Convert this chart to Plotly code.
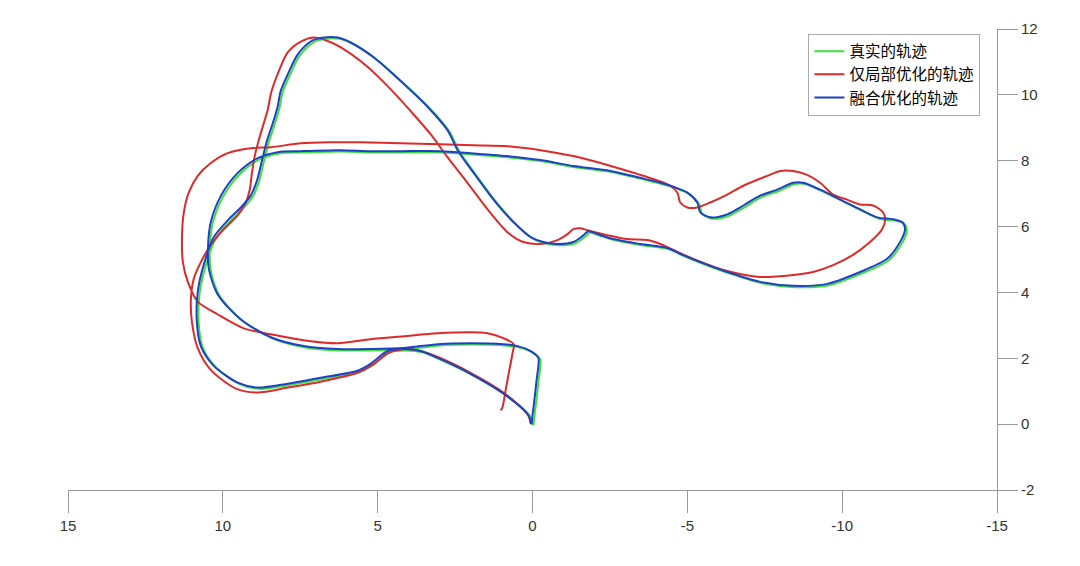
import plotly.graph_objects as go

# trajectory coordinates (x axis is drawn reversed)
true_x = [-0.01, 0.07, 0.88, 1.94, 3.00, 3.55, 4.10, 4.62, 5.17, 5.59,
          6.78, 7.84, 8.81, 9.46, 10.23, 10.65, 10.78, 10.75, 10.55, 10.23,
          9.78, 9.36, 9.04, 8.84, 8.68, 8.52, 8.33, 8.17, 8.07, 7.84,
          7.52, 7.10, 6.68, 6.23, 5.81, 5.07, 4.20, 3.33, 2.68, 2.36,
          1.84, 1.20, 0.55, 0.00, -0.41, -0.87, -1.38, -1.71, -1.87, -2.16,
          -2.67, -3.54, -4.41, -4.83, -5.48, -6.35, -7.41, -8.48, -9.58, -10.64,
          -11.51, -11.93, -12.09, -12.00, -11.71, -11.19, -10.64, -10.00, -9.35, -8.80,
          -8.48, -7.96, -7.41, -6.87, -6.35, -5.80, -5.48, -5.38, -5.06, -4.61,
          -4.19, -3.54, -2.58, -1.38, -0.32, 0.75, 1.94, 2.91, 4.20, 5.17,
          6.17, 7.42, 8.17, 8.81, 9.46, 10.00, 10.33, 10.42, 10.39, 10.10,
          9.36, 8.39, 7.33, 6.23, 5.17, 4.10, 3.00, 1.94, 0.88, 0.42,
          0.00, -0.25, -0.25, -0.19, -0.12, -0.06, -0.03]
true_y = [-0.04, 0.23, 0.89, 1.49, 1.97, 2.18, 2.24, 2.18, 1.79, 1.58,
          1.37, 1.19, 1.07, 1.22, 1.73, 2.33, 3.08, 3.98, 4.82, 5.64,
          6.15, 6.54, 6.90, 7.35, 7.95, 8.55, 9.09, 9.60, 10.08, 10.59,
          11.19, 11.58, 11.70, 11.70, 11.55, 11.10, 10.38, 9.60, 8.88, 8.28,
          7.59, 6.78, 6.09, 5.64, 5.49, 5.43, 5.49, 5.70, 5.82, 5.73,
          5.58, 5.43, 5.31, 5.13, 4.88, 4.58, 4.28, 4.16, 4.22, 4.58,
          4.98, 5.49, 5.88, 6.09, 6.18, 6.24, 6.48, 6.78, 7.08, 7.29,
          7.29, 7.08, 6.90, 6.60, 6.33, 6.24, 6.39, 6.69, 6.99, 7.17,
          7.29, 7.44, 7.65, 7.80, 7.98, 8.10, 8.19, 8.25, 8.25, 8.25,
          8.28, 8.25, 8.22, 8.04, 7.59, 6.90, 6.09, 5.28, 4.67, 3.89,
          3.14, 2.60, 2.33, 2.24, 2.24, 2.27, 2.39, 2.42, 2.39, 2.33,
          2.18, 1.97, 1.73, 1.28, 0.68, 0.23, -0.04]

local_x = [0.05, 0.16, 0.94, 2.00, 3.06, 3.61, 4.10, 4.65, 5.16, 5.65,
           6.84, 7.90, 8.87, 9.58, 10.39, 10.81, 11.00, 11.03, 10.94, 10.71,
           10.39, 9.97, 9.52, 9.26, 9.13, 9.06, 8.97, 8.84, 8.68, 8.55,
           8.43, 8.20, 7.90, 7.48, 7.06, 6.74, 6.19, 5.34, 4.57, 3.88,
           3.26, 2.74, 2.10, 1.45, 0.81, 0.29, -0.26, -0.81, -1.13, -1.32,
           -1.55, -1.77, -2.42, -3.06, -3.71, -4.13, -4.55, -5.19, -6.29, -7.35,
           -8.42, -9.06, -9.71, -10.35, -10.90, -11.29, -11.39, -11.32, -11.00, -10.58,
           -10.16, -9.71, -9.29, -8.87, -8.42, -8.00, -7.58, -6.81, -6.29, -5.74,
           -5.32, -5.00, -4.77, -4.68, -4.45, -3.97, -3.48, -2.42, -1.32, -0.26,
           0.81, 1.90, 2.97, 4.26, 5.55, 6.52, 7.48, 8.45, 9.10, 9.84,
           10.39, 10.81, 11.10, 11.26, 11.32, 11.29, 11.13, 10.81, 10.16, 9.32,
           8.45, 7.16, 6.29, 5.23, 4.16, 3.06, 2.00, 1.45, 0.94, 0.61,
           0.65, 0.77, 0.87, 0.97, 1.03]
local_y = [0.00, 0.30, 0.96, 1.56, 2.04, 2.22, 2.28, 2.16, 1.80, 1.56,
           1.29, 1.11, 0.96, 1.08, 1.65, 2.31, 3.12, 3.81, 4.41, 4.92,
           5.44, 5.92, 6.34, 6.73, 7.12, 7.63, 8.14, 8.62, 9.13, 9.55,
           10.10, 10.70, 11.30, 11.62, 11.74, 11.68, 11.44, 10.86, 10.16, 9.45,
           8.77, 8.10, 7.33, 6.52, 5.83, 5.53, 5.47, 5.59, 5.77, 5.92,
           5.95, 5.89, 5.74, 5.62, 5.59, 5.47, 5.29, 5.02, 4.65, 4.47,
           4.53, 4.62, 4.83, 5.14, 5.53, 5.92, 6.22, 6.43, 6.64, 6.67,
           6.82, 6.97, 7.33, 7.57, 7.69, 7.69, 7.54, 7.24, 6.97, 6.73,
           6.58, 6.58, 6.73, 7.03, 7.24, 7.42, 7.57, 7.87, 8.14, 8.32,
           8.44, 8.47, 8.50, 8.53, 8.56, 8.56, 8.53, 8.41, 8.38, 8.23,
           7.93, 7.54, 7.03, 6.43, 5.62, 4.92, 4.32, 3.72, 3.33, 2.91,
           2.73, 2.52, 2.46, 2.58, 2.67, 2.76, 2.79, 2.76, 2.61, 2.43,
           2.13, 1.53, 1.02, 0.51, 0.42]

fused_x = [0.05, 0.13, 0.94, 2.00, 3.06, 3.61, 4.16, 4.68, 5.23, 5.65,
           6.84, 7.90, 8.87, 9.52, 10.29, 10.71, 10.84, 10.81, 10.61, 10.29,
           9.84, 9.42, 9.10, 8.90, 8.74, 8.58, 8.39, 8.23, 8.13, 7.90,
           7.58, 7.16, 6.74, 6.29, 5.87, 5.13, 4.26, 3.39, 2.74, 2.42,
           1.90, 1.26, 0.61, 0.06, -0.35, -0.81, -1.32, -1.65, -1.81, -2.10,
           -2.61, -3.48, -4.35, -4.77, -5.42, -6.29, -7.35, -8.42, -9.52, -10.58,
           -11.45, -11.87, -12.03, -11.94, -11.65, -11.13, -10.58, -9.94, -9.29, -8.74,
           -8.42, -7.90, -7.35, -6.81, -6.29, -5.74, -5.42, -5.32, -5.00, -4.55,
           -4.13, -3.48, -2.52, -1.32, -0.26, 0.81, 2.00, 2.97, 4.26, 5.23,
           6.23, 7.48, 8.23, 8.87, 9.52, 10.06, 10.39, 10.48, 10.45, 10.16,
           9.42, 8.45, 7.39, 6.29, 5.23, 4.16, 3.06, 2.00, 0.94, 0.48,
           0.06, -0.19, -0.19, -0.13, -0.06, 0.00, 0.03]
fused_y = [0.00, 0.27, 0.93, 1.53, 2.01, 2.22, 2.28, 2.22, 1.83, 1.62,
           1.41, 1.23, 1.11, 1.26, 1.77, 2.37, 3.12, 4.02, 4.86, 5.68,
           6.19, 6.58, 6.94, 7.39, 7.99, 8.59, 9.13, 9.64, 10.12, 10.63,
           11.23, 11.62, 11.74, 11.74, 11.59, 11.14, 10.42, 9.64, 8.92, 8.32,
           7.63, 6.82, 6.13, 5.68, 5.53, 5.47, 5.53, 5.74, 5.86, 5.77,
           5.62, 5.47, 5.35, 5.17, 4.92, 4.62, 4.32, 4.20, 4.26, 4.62,
           5.02, 5.53, 5.92, 6.13, 6.22, 6.28, 6.52, 6.82, 7.12, 7.33,
           7.33, 7.12, 6.94, 6.64, 6.37, 6.28, 6.43, 6.73, 7.03, 7.21,
           7.33, 7.48, 7.69, 7.84, 8.02, 8.14, 8.23, 8.29, 8.29, 8.29,
           8.32, 8.29, 8.26, 8.08, 7.63, 6.94, 6.13, 5.32, 4.71, 3.93,
           3.18, 2.64, 2.37, 2.28, 2.28, 2.31, 2.43, 2.46, 2.43, 2.37,
           2.22, 2.01, 1.77, 1.32, 0.72, 0.27, 0.00]

x_ticks = [15, 10, 5, 0, -5, -10, -15]
y_ticks = [-2, 0, 2, 4, 6, 8, 10, 12]

assert len(true_x) == len(true_y)
assert len(local_x) == len(local_y)
assert len(fused_x) == len(fused_y)

fig = go.Figure()

series = [
    ('真实的轨迹', true_x, true_y, '#3ce23c'),
    ('仅局部优化的轨迹', local_x, local_y, '#dd2a2a'),
    ('融合优化的轨迹', fused_x, fused_y, '#2040c8'),
]
for name, xs, ys, color in series:
    fig.add_trace(go.Scatter(
        x=xs, y=ys, name=name, mode='lines',
        line=dict(color=color, width=2, shape='spline', smoothing=0.8),
        hoverinfo='skip'
    ))

# the page body adds an 8px offset, so margins are shifted to compensate
fig.update_layout(
    width=1080, height=566,
    margin=dict(l=60, r=91, t=16, b=84),
    paper_bgcolor='white', plot_bgcolor='white',
    font=dict(family='Liberation Sans, Arial, sans-serif', size=15, color='#333'),
    xaxis=dict(
        range=[15, -15], tickvals=x_ticks,
        ticktext=[str(v) for v in x_ticks],
        showgrid=False, zeroline=False,
        showline=True, linecolor='#999', linewidth=1,
        ticks='outside', ticklen=22, tickcolor='#999',
        tickfont=dict(size=15, color='#333'),
    ),
    yaxis=dict(
        range=[-2, 12], side='right', tickvals=y_ticks,
        ticktext=[str(v) for v in y_ticks],
        showgrid=False, zeroline=False,
        showline=True, linecolor='#999', linewidth=1,
        ticks='outside', ticklen=20, tickcolor='#999',
        tickfont=dict(size=15, color='#333'),
    ),
    legend=dict(
        x=0.797, y=0.99, xanchor='left', yanchor='top',
        bgcolor='white', bordercolor='#aaa', borderwidth=1,
        font=dict(family='Noto Sans CJK SC', size=15.5, color='black'),
        tracegroupgap=0, itemwidth=30,
    ),
    showlegend=True,
)

fig.write_html("out.html")
